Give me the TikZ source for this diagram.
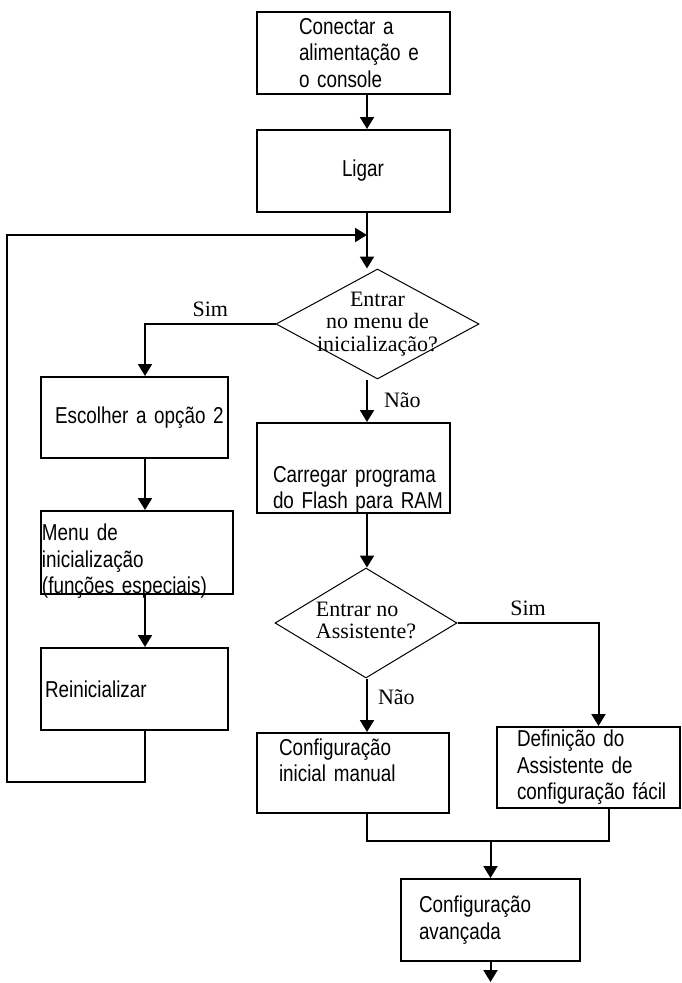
\documentclass[tikz,border=0pt]{standalone}
\usepackage{fontspec}
\setmainfont{Liberation Serif}
\newfontfamily\boxfont[FakeStretch=0.82]{Liberation Sans}
\usepackage{tikz}
\usetikzlibrary{shapes.geometric,arrows.meta,positioning,calc}
\newcommand{\qlines}[2]{\makebox[0pt]{\begin{tabular}{@{}#1@{}}#2\end{tabular}}}

\begin{document}
\begin{tikzpicture}[x=1pt, y=-1pt,
  box/.style n args={3}{draw, line width=2pt, inner sep=0pt,
    minimum width=#1, minimum height=#2, text width=#1, align=left,
    font=\boxfont\fontsize{23}{26.5}\selectfont,
    execute at begin node={\leftskip=#3\rightskip=-20pt plus 1fil\relax}},
  query/.style n args={2}{shape=diamond, draw, line width=1pt, inner sep=0pt,
    minimum width=#1, minimum height=#2, font=\fontsize{22}{22.5}\selectfont},
  conn/.style={line width=2pt},
  ans/.style={font=\fontsize{22}{22.5}\selectfont, inner sep=2pt},
  >={Triangle[length=12pt,width=14pt]}]
  \useasboundingbox (0,0) rectangle (682,983);
  \coordinate (axis) at (367,0);
  \coordinate (lax) at (145,0);
  \coordinate (join) at (367,235);
  \coordinate (rim) at (7,782);
  \coordinate (merge) at (490.5,841);
  \coordinate (out) at (490.5,982);

  \node[box={193pt}{82pt}{42pt}] (power) at (353.5,53) {Conectar a\\alimentação e\\o console};
  \node[box={193pt}{82pt}{85pt}] (ligar) at (353.5,171) {Ligar};
  \node[query={203pt}{110pt}] (bootq) at (377.5,324) {\qlines{c}{Entrar\\no menu de\\inicialização?}};
  \node[box={193pt}{90pt}{16pt}, text height=38pt, text depth=9.8pt] (load) at (353.5,468) {Carregar programa\\do Flash para RAM};
  \node[query={182pt}{110pt}] (wizq) at (366,623) {\qlines{l}{Entrar no\\Assistente?}};
  \node[box={192pt}{80pt}{22pt}, text height=3.8pt, text depth=39.5pt] (manual) at (353,773) {Configuração\\inicial manual};
  \node[box={183pt}{81pt}{20pt}] (easy) at (588.5,767.5) {Definição do\\Assistente de\\configuração fácil};
  \node[box={179pt}{82pt}{18pt}] (adv) at (490.5,920) {Configuração\\avançada};
  \node[box={187pt}{81pt}{14pt}] (opt) at (134.5,417.5) {Escolher a opção 2};
  \node[box={192pt}{83pt}{1pt}, text height=25.3pt, text depth=49.3pt] (bootmenu) at (137,552.5) {Menu de\\inicialização\\(funções especiais)};
  \node[box={187pt}{82pt}{4pt}] (reboot) at (134.5,689) {Reinicializar};

  \draw[conn,->] (power.south -| axis) -- (ligar.north -| axis);
  \draw[conn,->] (ligar.south -| axis) -- (bootq.north -| axis);
  \draw[conn,->] (bootq.west) -| node[ans, pos=0.25, above=4pt] {Sim} (opt.north -| lax);
  \draw[conn,->] (bootq.south -| axis) -- node[ans, pos=0.48, right=14pt] {Não} (load.north -| axis);
  \draw[conn,->] (opt.south -| lax) -- (bootmenu.north -| lax);
  \draw[conn,->] (bootmenu.south -| lax) -- (reboot.north -| lax);
  \draw[conn,->] (reboot.south -| lax) |- (rim) |- (join);
  \draw[conn,->] (load.south -| axis) -- (wizq.north -| axis);
  \draw[conn,->] (wizq.south -| axis) -- node[ans, pos=0.34, right=8pt] {Não} (manual.north -| axis);
  \draw[conn,->] (wizq.east) -| node[ans, pos=0.25, above=4pt] {Sim} ([xshift=10pt]easy.north);
  \draw[conn] (manual.south -| axis) |- (merge) -| ([xshift=20pt]easy.south);
  \draw[conn,->] (merge) -- (adv.north);
  \draw[conn,->] (adv.south) -- (out);
\end{tikzpicture}
\end{document}
